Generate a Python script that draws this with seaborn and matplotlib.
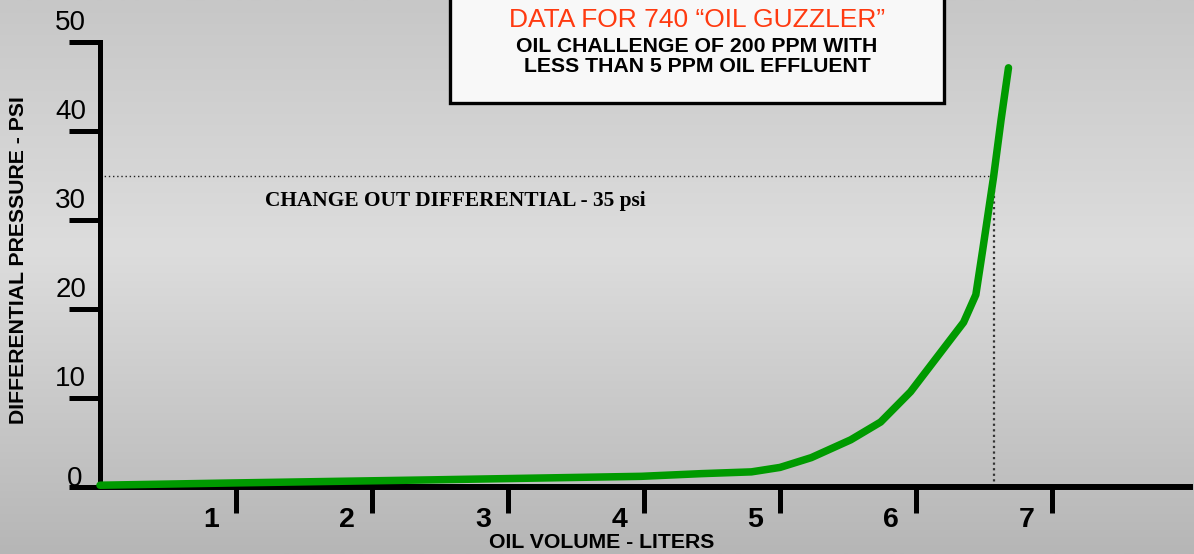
import numpy as np
import matplotlib
matplotlib.use('Agg')
import matplotlib.pyplot as plt
import matplotlib.transforms as mtransforms
from matplotlib.patches import Rectangle
from matplotlib.colors import LinearSegmentedColormap
import seaborn as sns

# values
volume = [0.0, 0.96, 2.43, 3.98, 4.42, 4.79, 5.0, 5.23, 5.52, 5.74, 5.96,
          6.15, 6.35, 6.44, 6.49, 6.57, 6.625, 6.68]
pressure = [0.2, 0.45, 0.8, 1.2, 1.5, 1.7, 2.2, 3.3, 5.3, 7.3, 10.7,
            14.5, 18.5, 21.6, 26.6, 34.8, 41.2, 47.1]
y_ticks = [0, 10, 20, 30, 40, 50]
x_ticks = [1, 2, 3, 4, 5, 6, 7]
change_out_psi = 35
change_out_volume = 6.57

W, H = 1194, 554
sns.set_style('white')
plt.rcParams['font.family'] = ['Liberation Sans', 'DejaVu Sans']
plt.rcParams['text.color'] = 'black'

fig = plt.figure(figsize=(W / 100, H / 100), dpi=100)

# grey gradient background
bg = fig.add_axes([0, 0, 1, 1], zorder=-10)
cmap = LinearSegmentedColormap.from_list(
    'bg', [(0.0, '#c7c7c7'), (0.45, '#dddddd'), (1.0, '#b6b6b6')])
grad = np.linspace(0, 1, 256).reshape(-1, 1)
bg.imshow(grad, aspect='auto', cmap=cmap, extent=[0, 1, 0, 1], origin='upper')
bg.axis('off')

ax = fig.add_axes([100 / W, (H - 487) / H, 1090 / W, 445 / H])
ax.set_facecolor('none')

sns.lineplot(x=volume, y=pressure, ax=ax, color='#009a00', linewidth=5.4,
             clip_on=False, zorder=3)

ax.hlines(change_out_psi, 0, change_out_volume, colors='#222222',
          linestyles=(0, (1, 2)), linewidth=1.0)
ax.vlines(change_out_volume, 0, change_out_psi, colors='#333333',
          linestyles=(0, (1, 1.5)), linewidth=1.6)

ax.set_xlim(0, 1090 / 136)
ax.set_ylim(0, 50)

for s in ['top', 'right']:
    ax.spines[s].set_visible(False)
ax.spines['left'].set_linewidth(3.6)
ax.spines['bottom'].set_linewidth(4.3)
ax.spines['left'].set_color('black')
ax.spines['bottom'].set_color('black')

ax.set_xticks(x_ticks)
ax.set_yticks(y_ticks)
ax.set_xticklabels([])
ax.set_yticklabels([])
ax.tick_params(axis='x', direction='out', length=19, width=3.6, color='black', bottom=True)
ax.tick_params(axis='y', direction='out', length=22, width=3.6, color='black', left=True)

# y labels sit just above their ticks, except 0 which sits on the axis
for v in y_ticks:
    dy = -5 if v == 0 else 6
    dx = -18 if v == 0 else -14
    tr = mtransforms.offset_copy(ax.transData, fig=fig, x=dx, y=dy, units='dots')
    ax.text(0, v, str(v), transform=tr, ha='right', va='bottom',
            fontsize=20, color='black', clip_on=False)

xlab_tr = mtransforms.offset_copy(ax.transData, fig=fig, x=-17, y=-20, units='dots')
for v in x_ticks:
    ax.text(v, 0, str(v), transform=xlab_tr, ha='right', va='top',
            fontsize=20.5, fontweight='bold', color='black', clip_on=False)

# title box
box = Rectangle((450 / W, (H - 103) / H), 494 / W, 120 / H,
                transform=fig.transFigure, facecolor='#f8f8f8',
                edgecolor='black', linewidth=2.4, zorder=5)
fig.add_artist(box)
fig.text(697 / W, 1 - 20 / H, 'DATA FOR 740 \u201cOIL GUZZLER\u201d',
         ha='center', va='center', fontsize=19, color='#ff3a10', zorder=6)
fig.text(697 / W, 1 - 46 / H, 'OIL CHALLENGE OF 200 PPM WITH',
         ha='center', va='center', fontsize=15.3, fontweight='bold', zorder=6)
fig.text(697 / W, 1 - 67 / H, 'LESS THAN 5 PPM OIL EFFLUENT',
         ha='center', va='center', fontsize=15.3, fontweight='bold', zorder=6)

fig.text(265 / W, 1 - 201 / H, 'CHANGE OUT DIFFERENTIAL - 35 psi',
         ha='left', va='center', fontsize=15.4, fontweight='bold',
         family=['Liberation Serif', 'DejaVu Serif'])

fig.text(19 / W, 1 - 260 / H, 'DIFFERENTIAL PRESSURE - PSI', rotation=90,
         ha='center', va='center', fontsize=15.3, fontweight='bold')
fig.text(602 / W, 1 - 543 / H, 'OIL VOLUME - LITERS',
         ha='center', va='center', fontsize=15.3, fontweight='bold')

fig.savefig('out.png', dpi=100)
